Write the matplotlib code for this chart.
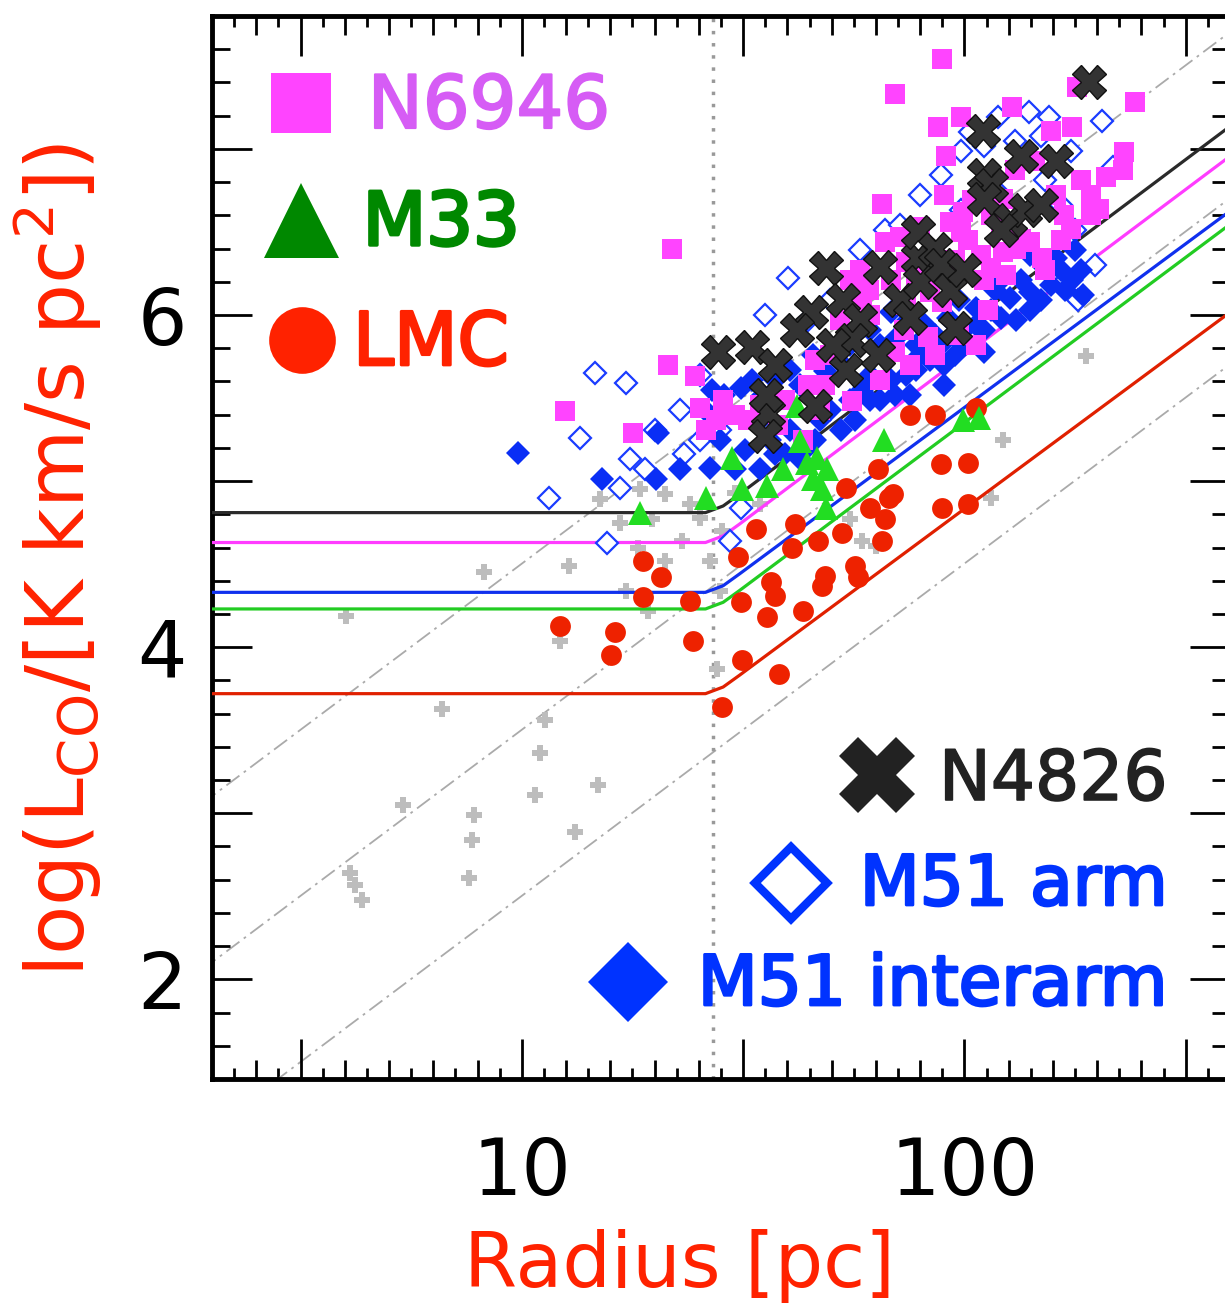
import numpy as np
import matplotlib
matplotlib.use("Agg")
import matplotlib.pyplot as plt
import matplotlib.patheffects as pe
from matplotlib.ticker import FixedLocator, FuncFormatter, NullLocator, NullFormatter

plt.rcParams["font.family"] = ["DejaVu Sans"]

# ---- data: radius [pc], log L_CO ----
lmc_r = [12.2, 16.2, 15.9, 18.8, 20.6, 18.8, 24.0, 24.4, 28.3, 31.5, 31.2, 30.8, 33.8,
         35.8, 36.5, 38.1, 37.3, 41.5, 40.8, 43.2, 47.7, 46.7, 48.4, 53.0, 54.1, 56.6,
         57.4, 61.2, 65.2, 66.0, 67.6, 63.8, 68.9, 75.5, 85.9, 88.3, 102, 89.0, 102, 106]
lmc_y = [4.13, 4.09, 3.95, 4.52, 4.42, 4.30, 4.28, 4.04, 3.64, 3.92, 4.27, 4.54, 4.71,
         4.18, 4.39, 3.84, 4.31, 4.74, 4.60, 4.22, 4.37, 4.64, 4.43, 4.69, 4.96, 4.49,
         4.42, 4.84, 4.64, 4.77, 4.90, 5.07, 4.92, 5.40, 5.40, 5.10, 5.11, 4.84, 4.86, 5.44]

m33_r = [18.5, 26.1, 29.8, 31.5, 35.8, 38.9, 41.9, 42.6, 44.0, 46.5, 49.0, 47.7, 48.7,
         65.8, 99.0, 108, 45.4]
m33_y = [4.81, 4.90, 5.14, 4.95, 4.97, 5.07, 5.45, 5.24, 5.11, 5.14, 5.07, 4.95, 4.84,
         5.25, 5.37, 5.38, 5.01]

n4826_r = [27.7, 33.1, 37.3, 36.0, 35.4, 35.6, 46.0, 44.9, 41.9, 48.7, 53.2, 58.2, 55.7,
           53.9, 50.6, 64.5, 63.8, 71.6, 75.5, 78.7, 78.7, 79.5, 85.9, 88.3, 92.9, 100,
           110, 111, 115, 111, 134, 161, 127, 137, 149, 191, 95.0, 121]
n4826_y = [5.78, 5.81, 5.70, 5.41, 5.27, 5.52, 5.45, 6.02, 5.91, 6.28, 6.09, 5.97, 5.85,
           5.67, 5.82, 6.29, 5.76, 6.09, 5.98, 6.34, 6.50, 6.20, 6.40, 6.30, 6.15, 6.27,
           7.11, 6.84, 6.78, 6.70, 6.96, 6.93, 6.57, 6.63, 6.66, 7.40, 5.92, 6.51]

inter_r = [9.8, 15.2, 20.3, 22.8, 20.1, 26.6, 26.9, 26.0, 28.7, 31.2, 33.1, 35.0, 37.3,
           40.4, 42.6, 45.4, 48.4, 51.9, 55.2, 58.8, 61.2, 64.5, 68.3, 70.2, 73.6, 77.6,
           81.6, 85.9, 92.0, 97.0, 99.0, 106, 111, 117, 121, 127, 134, 141, 152, 161,
           169, 178, 175, 111, 90.0, 73.6, 64.5, 52.6, 47.2, 40.4, 37.3, 34.6, 30.3,
           42.6, 55.2, 61.2, 121, 149, 141, 95.0, 79.5,
           28.0, 32.0, 36.4, 46.0, 49.8, 56.6, 61.2, 68.3, 69.8, 77.6, 83.7, 88.3, 100,
           106, 115, 131, 141, 157, 165, 183, 185, 90.0, 75.5, 39.3, 43.6]
inter_y = [5.17, 5.01, 5.29, 5.07, 5.01, 5.08, 5.55, 5.43, 5.52, 5.56, 5.61, 5.52, 5.61,
           5.67, 5.58, 5.76, 5.66, 5.73, 5.82, 5.55, 5.91, 5.82, 6.02, 5.86, 5.96, 5.82,
           5.94, 5.88, 5.98, 6.09, 5.82, 6.04, 5.91, 6.15, 5.98, 6.10, 6.21, 6.14, 6.28,
           6.34, 6.15, 6.39, 6.21, 5.78, 5.70, 5.64, 5.49, 5.31, 5.37, 5.31, 5.16, 5.07,
           5.07, 5.13, 5.49, 5.64, 6.21, 6.09, 6.36, 5.76, 5.76,
           5.25, 5.19, 5.25, 5.25, 5.43, 5.37, 5.49, 5.61, 5.52, 5.67, 5.73, 5.82, 5.91,
           5.94, 6.03, 5.97, 6.03, 6.18, 6.27, 6.27, 6.12, 5.58, 5.52, 5.16, 5.19]

arm_r = [11.5, 13.5, 14.6, 17.2, 15.6, 16.7, 19.0, 23.3, 25.3, 29.6, 31.2, 39.9, 58.2,
         66.3, 88.3, 103, 119, 140, 155, 205, 174, 217, 197, 181, 178, 167, 98.0, 111,
         130, 149, 79.5, 71.6, 49.8, 44.4, 35.4, 25.3, 22.8, 20.0, 17.6, 28.0, 34.6,
         152, 121, 98.0, 165]
arm_y = [4.90, 5.26, 5.65, 5.59, 4.63, 4.96, 5.07, 5.16, 5.25, 4.64, 4.84, 6.22, 6.39,
         6.51, 6.84, 7.10, 7.19, 7.22, 7.19, 7.17, 6.99, 6.89, 6.30, 6.09, 6.51, 6.19,
         6.99, 7.02, 7.05, 7.08, 6.72, 6.54, 6.09, 5.97, 6.00, 5.64, 5.43, 5.31, 5.13,
         5.31, 5.37, 6.81, 6.72, 6.63, 6.66]

n6946_r = [12.5, 17.8, 21.4, 21.8, 24.6, 25.3, 26.1, 69.8, 89.0, 87.0, 98.0, 91.0, 128,
           243, 209, 229, 228, 175, 180, 201, 193, 65.2, 71.6, 28.5, 30.3, 32.5, 34.6,
           27.4, 39.3, 44.4, 49.8, 52.4, 55.2, 58.8, 61.2, 68.3, 73.6, 77.6, 83.7, 89.0,
           95.0, 102, 109, 115, 122, 131, 141, 150, 165, 174, 99.0, 90.0, 104, 115, 122,
           85.9, 82.8, 97.0, 106, 75.5, 69.8, 64.5, 55.7, 47.2, 43.2, 37.9, 130, 144,
           183, 193, 161, 152, 134, 124, 113, 88.0, 66.0, 61.0, 73.0, 73.6, 121, 98.0,
           111, 48.4, 46.0, 58.0, 79.5, 168, 93.0, 157]
n6946_y = [5.42, 5.29, 5.70, 6.40, 5.63, 5.44, 5.31, 7.33, 7.54, 7.13, 7.19, 6.96, 7.25,
           7.28, 6.83, 6.98, 6.87, 7.13, 7.37, 6.64, 6.60, 6.67, 6.47, 5.49, 5.40, 5.37,
           5.46, 5.37, 5.49, 5.58, 5.76, 5.97, 6.21, 6.09, 6.00, 6.21, 6.32, 6.24, 6.14,
           6.08, 6.33, 6.45, 6.36, 6.28, 6.38, 6.40, 6.44, 6.34, 6.45, 6.52, 6.62, 6.72,
           6.69, 6.60, 6.70, 5.76, 5.87, 5.88, 5.82, 5.70, 5.78, 5.61, 5.48, 5.43, 5.25,
           5.34, 6.87, 6.93, 6.81, 6.72, 6.72, 6.27, 6.46, 6.24, 6.03, 6.26, 6.44, 6.15,
           5.91, 6.06, 6.51, 6.50, 6.21, 5.58, 5.73, 6.27, 6.53, 6.60, 6.56, 7.11]

other_r = [4.0, 6.6, 8.2, 12.8, 5.4, 4.1, 4.2, 4.35, 7.8, 7.7, 7.6, 10.7, 11.3, 11.0, 13.2,
           14.9, 12.2, 27.6, 122, 115, 188, 63.0, 15.0, 16.7, 18.3, 19.7, 21.1, 23.0, 25.3,
           28.3, 21.1, 24.0, 17.2, 19.3, 26.6, 30.3, 34.6, 55.2, 58.8, 18.5, 28.0]
other_y = [4.19, 3.63, 4.45, 4.49, 3.05, 2.64, 2.57, 2.48, 2.99, 2.84, 2.61, 3.11, 3.56,
           3.36, 2.89, 3.17, 4.04, 3.87, 5.25, 4.90, 5.75, 4.61, 4.89, 4.75, 4.60, 4.77,
           4.52, 4.64, 4.78, 4.70, 4.92, 4.86, 4.34, 4.22, 4.52, 4.93, 4.86, 4.77, 4.64,
           4.95, 4.34]

# model curves (vertices)
model_r = [1.9, 26.0, 28.5, 31.0, 400]
model_black = [4.81, 4.81, 4.85, 4.92, 7.14]
model_magenta = [4.63, 4.63, 4.67, 4.74, 6.96]
model_blue = [4.33, 4.33, 4.37, 4.44, 6.63]
model_green = [4.23, 4.23, 4.27, 4.34, 6.55]
model_red = [3.72, 3.72, 3.76, 3.83, 6.02]

# constant surface-brightness guide lines
guide_r = [1.9, 420]
guide_hi = [3.06, 7.75]
guide_mid = [2.06, 6.75]
guide_lo = [1.06, 5.75]

resolution_r = 27

fig = plt.figure(figsize=(12.25, 13.08), dpi=100)
ax = fig.add_axes([212 / 1225, 229 / 1308, 1018 / 1225, 1063 / 1308])

# guide lines and resolution limit
for gy in (guide_hi, guide_mid, guide_lo):
    ax.plot(guide_r, gy, color="#aaaaaa", lw=1.3, ls=(0, (9, 3, 1.5, 3)), zorder=1)
ax.axvline(resolution_r, color="#999999", lw=2.5, ls=(0, (1, 2.5)), zorder=1)

ax.plot(other_r, other_y, ls="none", marker="P", ms=11, color="#bdbdbd", mew=0, zorder=2)

for my, c in ((model_black, "#2a2a2a"), (model_magenta, "#ff3cff"),
              (model_blue, "#1030ee"), (model_green, "#22cc22"), (model_red, "#e02000")):
    ax.plot(model_r, my, color=c, lw=2.3, zorder=3)

ax.plot(arm_r, arm_y, ls="none", marker="D", ms=11, mfc="white", mec="#1a3cff", mew=1.6, zorder=4)
ax.plot(inter_r, inter_y, ls="none", marker="D", ms=12, color="#0a2ef5", mew=0, zorder=5)
ax.plot(n6946_r, n6946_y, ls="none", marker="s", ms=14, color="#ff44ff", mew=0, zorder=6)
ax.plot(lmc_r, lmc_y, ls="none", marker="o", ms=15, color="#ee2200", mew=0, zorder=7)
ax.plot(m33_r, m33_y, ls="none", marker="^", ms=17, color="#22dd22", mew=0, zorder=8)
ax.plot(n4826_r, n4826_y, ls="none", marker="X", ms=24, mfc="#333333", mec="#111111",
        mew=1, zorder=9)

# axes and ticks
ax.set_xscale("log")
ax.set_xlim(10 ** 0.3, 10 ** 2.6)
ax.set_ylim(1.4, 7.8)

ax.xaxis.set_major_locator(FixedLocator([10 ** 0.5, 10, 10 ** 1.5, 100, 10 ** 2.5]))
ax.xaxis.set_major_formatter(FuncFormatter(lambda v, p: {10: "10", 100: "100"}.get(int(round(v)), "")))
ax.xaxis.set_minor_locator(FixedLocator([10 ** (k / 10) for k in range(3, 27) if k % 5]))
ax.xaxis.set_minor_formatter(NullFormatter())
ax.yaxis.set_major_locator(FixedLocator([2, 3, 4, 5, 6, 7]))
ax.yaxis.set_major_formatter(FuncFormatter(lambda v, p: "%d" % v if int(v) % 2 == 0 else ""))
ax.yaxis.set_minor_locator(FixedLocator(np.arange(1.4, 7.81, 0.2)))

ax.tick_params(which="both", direction="in", top=True, right=True, width=2, color="black")
ax.tick_params(which="major", length=29, labelsize=56)
ax.tick_params(which="minor", length=14)
ax.tick_params(axis="y", which="minor", length=13)
ax.tick_params(axis="x", which="major", pad=40)
ax.tick_params(axis="y", which="major", pad=18)
for s in ax.spines.values():
    s.set_linewidth(3.5)

# short in-between ticks on the radius axis
short_ticks = [10 ** (0.35 + k / 10) for k in range(23)]
for loc in ("bottom", "top"):
    sec = ax.secondary_xaxis(loc)
    sec.set_xticks(short_ticks)
    sec.xaxis.set_major_formatter(NullFormatter())
    sec.xaxis.set_minor_locator(NullLocator())
    sec.xaxis.set_minor_formatter(NullFormatter())
    sec.tick_params(which="both", direction="in", length=8, width=2,
                    labelbottom=False, labeltop=False)
    sec.spines[loc].set_visible(False)

fig.text(57 / 1225, 1 - 560 / 1308, r"log(L$_{\rm CO}$/[K km/s pc$^2$])", rotation=90,
         ha="center", va="center", fontsize=58, color="#ff2200")
fig.text(680 / 1225, 1 - 1266 / 1308, "Radius [pc]", ha="center", va="center",
         fontsize=55, color="#ff2200")

# in-panel legend
lk = dict(transform=ax.transAxes, ls="none", clip_on=False, zorder=10)
ax.plot([0.0874], [0.918], marker="s", ms=43, color="#ff44ff", mew=0, **lk)
ax.plot([0.0874], [0.808], marker="^", ms=54, color="#008800", mew=0, **lk)
ax.plot([0.0884], [0.695], marker="o", ms=48, color="#ff2200", mew=0, **lk)
ax.plot([0.653], [0.286], marker="X", ms=55, color="#222222", mew=0, **lk)
ax.plot([0.569], [0.184], marker="D", ms=37, mfc="white", mec="#0033ff", mew=6, **lk)
ax.plot([0.409], [0.091], marker="D", ms=41, color="#0033ff", mew=0, **lk)

tk = dict(transform=ax.transAxes, va="baseline", zorder=10)
legend_texts = [
    (0.153, 0.8946, "N6946", "left", 53, "#d65cf5", 1.5),
    (0.148, 0.7846, "M33", "left", 53, "#008800", 2.5),
    (0.1385, 0.6717, "LMC", "left", 53, "#ff2200", 2.0),
    (0.939, 0.2625, "N4826", "right", 50, "#222222", 1.2),
    (0.939, 0.1637, "M51 arm", "right", 50, "#0033ff", 2.0),
    (0.939, 0.0696, "M51 interarm", "right", 50, "#0033ff", 2.0),
]
for x, y, s, ha, fs, c, sw in legend_texts:
    ax.text(x, y, s, ha=ha, fontsize=fs, color=c,
            path_effects=[pe.withStroke(linewidth=sw, foreground=c)], **tk)

fig.savefig("out.png", dpi=100, facecolor="white")
